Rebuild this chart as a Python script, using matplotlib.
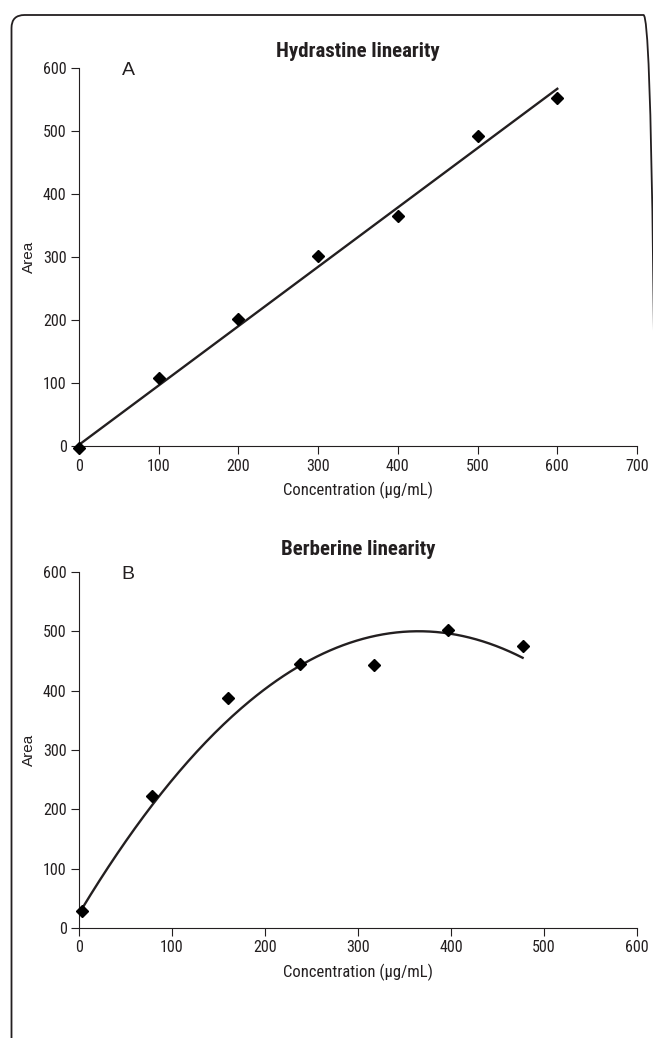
import numpy as np
import matplotlib
matplotlib.use("Agg")
import matplotlib.pyplot as plt
from matplotlib import font_manager as fm
from matplotlib.patches import FancyBboxPatch
from matplotlib.transforms import IdentityTransform

# --- data ---
hyd_conc = [0, 100, 200, 300, 400, 500, 600]
hyd_area = [-3, 108, 201, 301, 365, 492, 553]
hyd_fit_x = [0, 600]          # ends of the drawn regression line
hyd_fit_y = [2, 567]

ber_conc = [3, 78, 160, 238, 317, 397, 477]
ber_area = [28, 222, 387, 445, 443, 502, 475]
# quadratic trend line as drawn (c2, c1, c0)
ber_fit_coef = [-0.00357, 2.607, 24.1]

hyd_xticks = [0, 100, 200, 300, 400, 500, 600, 700]
ber_xticks = [0, 100, 200, 300, 400, 500, 600]
yticks = [0, 100, 200, 300, 400, 500, 600]

INK = "#231f20"

# pick a condensed face if one is there, the original uses one
names = {f.name for f in fm.fontManager.ttflist}
dv_cond = any(f.name == "DejaVu Sans" and f.stretch == "condensed"
              for f in fm.fontManager.ttflist)
if "Roboto Condensed" in names:
    cond = {"family": "Roboto Condensed"}
elif "Liberation Sans Narrow" in names:
    cond = {"family": "Liberation Sans Narrow"}
elif dv_cond:
    cond = {"family": "DejaVu Sans", "stretch": "condensed"}
else:
    cond = {"family": "Roboto"}
plain = {"family": "Liberation Sans"}

plt.rcParams["font.family"] = cond["family"]
plt.rcParams["font.stretch"] = cond.get("stretch", "normal")
plt.rcParams["text.color"] = INK
plt.rcParams["axes.labelcolor"] = INK
plt.rcParams["xtick.color"] = INK
plt.rcParams["ytick.color"] = INK


def style_axes(ax, xmax, xticks):
    for side in ("top", "right"):
        ax.spines[side].set_visible(False)
    for side in ("left", "bottom"):
        ax.spines[side].set_color(INK)
        ax.spines[side].set_linewidth(0.8)
    ax.set_xlim(0, xmax)
    ax.set_ylim(0, 600)
    ax.set_xticks(xticks)
    ax.set_yticks(yticks)
    ax.tick_params(direction="out", length=6, width=0.8, labelsize=11.5, pad=3)
    ax.set_xlabel("Concentration (\u00b5g/mL)", fontsize=12, labelpad=6)
    ax.set_ylabel("Area", fontsize=11, labelpad=5, **plain)


fig = plt.figure(figsize=(6.53, 10.38), dpi=100)

# rounded frame (pixel coords), right and bottom edges run off the page
frame = FancyBboxPatch((11.5, -14), 645, 1037,
                       boxstyle="round,pad=0,rounding_size=13",
                       transform=IdentityTransform(), fill=False,
                       edgecolor=INK, linewidth=1.3, clip_on=False)
fig.patches.append(frame)

ax1 = fig.add_axes([0.121, 0.5703, 0.8545, 0.3642])
ax1.plot(hyd_fit_x, hyd_fit_y, "-", color=INK, lw=1.7, zorder=2)
ax1.plot(hyd_conc, hyd_area, "D", color="black", ms=6.2, clip_on=False, zorder=3)
style_axes(ax1, 700, hyd_xticks)
ax1.set_title("Hydrastine linearity", fontsize=15, fontweight="bold", pad=8)
ax1.text(0.088, 0.993, "A", transform=ax1.transAxes, fontsize=14,
         ha="center", va="center", **plain)

ax2 = fig.add_axes([0.121, 0.106, 0.8545, 0.343])
xs = np.linspace(ber_conc[0], ber_conc[-1], 200)
ax2.plot(xs, np.polyval(ber_fit_coef, xs), "-", color=INK, lw=1.7, zorder=2)
ax2.plot(ber_conc, ber_area, "D", color="black", ms=6.2, clip_on=False, zorder=3)
style_axes(ax2, 600, ber_xticks)
ax2.set_title("Berberine linearity", fontsize=15, fontweight="bold", pad=12)
ax2.text(0.087, 0.993, "B", transform=ax2.transAxes, fontsize=14,
         ha="center", va="center", **plain)

fig.savefig("out.png", dpi=100)
